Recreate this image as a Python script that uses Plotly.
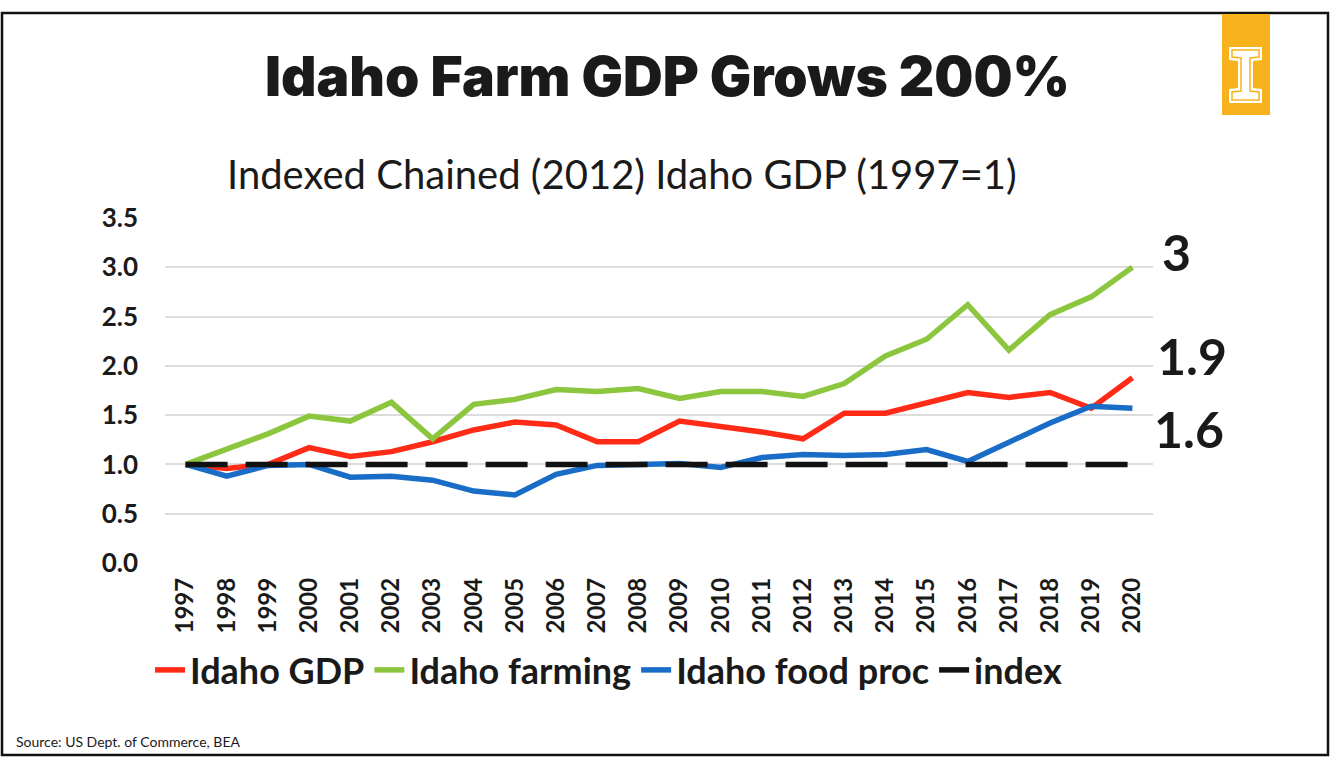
import plotly.graph_objects as go

# ---- data -------------------------------------------------------------
years = [str(y) for y in range(1997, 2021)]

idaho_gdp = [1.00, 0.96, 1.00, 1.17, 1.08, 1.13, 1.23, 1.35, 1.43, 1.40, 1.23, 1.23,
             1.44, 1.39, 1.33, 1.26, 1.52, 1.52, 1.62, 1.73, 1.68, 1.73, 1.57, 1.88]
idaho_farming = [1.00, 1.15, 1.31, 1.49, 1.44, 1.63, 1.26, 1.61, 1.66, 1.76, 1.74, 1.77,
                 1.67, 1.74, 1.74, 1.69, 1.82, 2.10, 2.27, 2.62, 2.16, 2.52, 2.70, 3.00]
idaho_food_proc = [1.00, 0.88, 0.99, 1.00, 0.87, 0.88, 0.84, 0.73, 0.69, 0.90, 0.99, 1.00,
                   1.01, 0.97, 1.07, 1.10, 1.09, 1.10, 1.15, 1.03, 1.23, 1.42, 1.59, 1.57]
index_line = [1.0] * len(years)

y_ticks = [0.0, 0.5, 1.0, 1.5, 2.0, 2.5, 3.0, 3.5]
y_tick_labels = [f"{v:.1f}" for v in y_ticks]

RED = "#FF2B17"
GREEN = "#8CC63F"
BLUE = "#1A6DC7"
GOLD = "#F8B21C"

# ---- page geometry (pixels) ------------------------------------------
W, H = 1331, 757
L, R, T, B = 165, 1153, 218, 563


def px(x):
    return (x - L) / (R - L)


def py(y):
    return (B - y) / (B - T)


def end_label(v):
    s = f"{v:.1f}"
    return s[:-2] if s.endswith(".0") else s


fig = go.Figure()

series = [
    ("Idaho GDP", idaho_gdp, RED, None),
    ("Idaho farming", idaho_farming, GREEN, None),
    ("Idaho food proc", idaho_food_proc, BLUE, None),
    ("index", index_line, "#111111", "42px,18px"),
]
for name, vals, color, dash in series:
    fig.add_trace(go.Scatter(
        x=years, y=vals, name=name, mode="lines",
        line=dict(color=color, width=5.5, dash=dash),
    ))

# ---- frame and logo ---------------------------------------------------
shapes = [
    dict(type="rect", xref="paper", yref="paper",
         x0=px(2), x1=px(1328), y0=py(755), y1=py(13),
         line=dict(color="#111111", width=2.5), fillcolor="rgba(0,0,0,0)", layer="below"),
    dict(type="rect", xref="paper", yref="paper",
         x0=px(1222), x1=px(1270), y0=py(115), y1=py(14),
         line=dict(width=0), fillcolor=GOLD),
]


def poly(points):
    return "M " + " L ".join(f"{px(a):.5f},{py(b):.5f}" for a, b in points) + " Z"


i_outer = [(1229, 47), (1262, 47), (1262, 60), (1253, 61), (1253, 88), (1262, 89),
           (1262, 103), (1229, 103), (1229, 89), (1238, 88), (1238, 61), (1229, 60)]
i_inner = [(1232, 50), (1259, 50), (1259, 57), (1250, 58), (1250, 91), (1259, 92),
           (1259, 100), (1232, 100), (1232, 92), (1241, 91), (1241, 58), (1232, 57)]
shapes.append(dict(type="path", xref="paper", yref="paper", path=poly(i_outer),
                   fillcolor="white", line=dict(width=0)))
shapes.append(dict(type="path", xref="paper", yref="paper", path=poly(i_inner),
                   fillcolor="rgba(0,0,0,0)", line=dict(color=GOLD, width=1.5)))

# ---- text -------------------------------------------------------------
annotations = [
    dict(text="Idaho Farm GDP Grows 200%", xref="paper", yref="paper",
         x=px(667), y=py(76), xanchor="center", yanchor="middle", showarrow=False,
         font=dict(family="Inter, DejaVu Sans", size=55, color="#1a1a1a", weight=900)),
    dict(text="Indexed Chained (2012) Idaho GDP (1997=1)", xref="paper", yref="paper",
         x=px(622), y=py(174), xanchor="center", yanchor="middle", showarrow=False,
         font=dict(family="Lato, Open Sans", size=40, color="#1a1a1a")),
    dict(text="Source: US Dept. of Commerce, BEA", xref="paper", yref="paper",
         x=px(14), y=py(741), xanchor="left", yanchor="middle", showarrow=False,
         font=dict(family="Lato, Open Sans", size=14, color="#1a1a1a")),
]

for vals, lx, ly in [(idaho_farming, 1160, 252), (idaho_gdp, 1155, 356), (idaho_food_proc, 1152, 429)]:
    annotations.append(dict(
        text=end_label(vals[-1]), xref="paper", yref="paper",
        x=px(lx), y=py(ly), xanchor="left", yanchor="middle", showarrow=False,
        font=dict(family="Lato, Open Sans", size=50, color="#1a1a1a", weight=700)))

fig.update_layout(
    width=W, height=H,
    margin=dict(l=L, r=W - R, t=T, b=H - B, pad=0),
    paper_bgcolor="white", plot_bgcolor="white",
    shapes=shapes, annotations=annotations,
    showlegend=True,
    legend=dict(orientation="h", x=px(150), y=py(640), xanchor="left", yanchor="top",
                font=dict(family="Lato, Open Sans", size=36, color="#1a1a1a", weight=700),
                bgcolor="rgba(0,0,0,0)", tracegroupgap=0, itemwidth=30),
    xaxis=dict(type="category", range=[-0.5, len(years) - 0.5], showgrid=False,
               showline=False, zeroline=False, ticks="", tickangle=-90,
               ticklabelstandoff=9,
               tickfont=dict(family="Lato, Open Sans", size=24, color="#1a1a1a", weight=700)),
    yaxis=dict(range=[0, 3.5], tickvals=y_ticks, ticktext=y_tick_labels,
               showgrid=True, gridcolor="#dcdcdc", gridwidth=1.5, zeroline=False,
               showline=False, ticks="", ticklabelstandoff=26,
               tickfont=dict(family="Lato, Open Sans", size=26, color="#1a1a1a", weight=700)),
)

fig.write_html("out.html")
